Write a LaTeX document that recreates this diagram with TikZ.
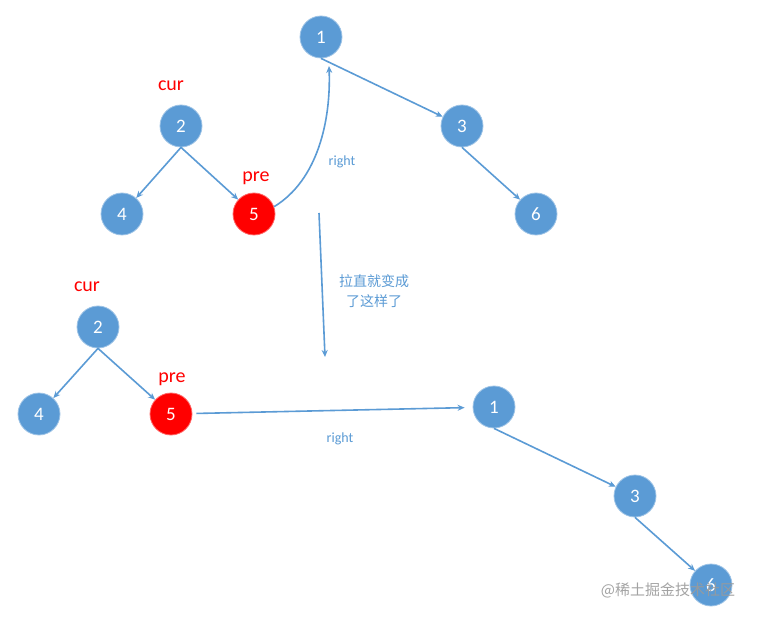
\documentclass[tikz,border=0pt]{standalone}
\usepackage{fontspec}
\setmainfont{Carlito}
\newfontfamily\cjk{Noto Sans CJK SC}
\usetikzlibrary{arrows.meta}
\definecolor{nodeblue}{HTML}{5B9BD5}
\definecolor{nodered}{HTML}{FF0000}
\definecolor{wmgray}{HTML}{9A9A9A}
\begin{document}
\begin{tikzpicture}[x=1pt,y=-1pt,
  tn/.style={circle,fill=nodeblue,draw=nodeblue!60!white,line width=0.8pt,minimum size=42pt,inner sep=0pt,text=white,font=\fontsize{19}{19}\selectfont},
  rn/.style={tn,fill=nodered,draw=nodered!60!white},
  lab/.style={text=nodered,font=\fontsize{20}{20}\selectfont},
  rlab/.style={text=nodeblue,font=\fontsize{14}{14}\selectfont},
  arr/.style={draw=nodeblue,line width=1.6pt,-{Stealth[length=7pt,width=6pt]}}]
\useasboundingbox[fill=white] (0,0) rectangle (757,617);
% top tree
\node[tn] (a1) at (321,37) {1};
\node[tn] (a2) at (181,126) {2};
\node[tn] (a4) at (122,214) {4};
\node[rn] (a5) at (254,214) {5};
\node[tn] (a3) at (462,126) {3};
\node[tn] (a6) at (536,214) {6};
\node[lab] (acur) at (171,86) {cur};
\node[lab] (apre) at (256,178) {pre};
\node[rlab] (aright) at (342,162) {right};
\draw[arr] (a2.south) -- (a4);
\draw[arr] (a2.south) -- (a5);
\draw[arr] (a1.south) -- (a3);
\draw[arr] (a3.south) -- (a6);
\coordinate (t1) at (329,66);
\draw[arr] (a5.20) .. controls (318,180) and (331,120) .. (t1);
% middle
\coordinate (v1) at (319,213);
\coordinate (v2) at (325,357);
\draw[arr] (v1) -- (v2);
\node[text=nodeblue,font=\cjk\fontsize{14}{20}\selectfont,align=center] (txt) at (374,291) {拉直就变成\\了这样了};
% bottom
\node[tn] (b2) at (98,327) {2};
\node[tn] (b4) at (39,414) {4};
\node[rn] (b5) at (171,414) {5};
\node[tn] (b1) at (494,407) {1};
\node[tn] (b3) at (635,496) {3};
\node[tn] (b6) at (711,585) {6};
\node[lab] (bcur) at (87,287) {cur};
\node[lab] (bpre) at (172,379) {pre};
\node[rlab] (bright) at (340,439) {right};
\draw[arr] (b2.south) -- (b4);
\draw[arr] (b2.south) -- (b5);
\draw[arr,shorten >=8pt,shorten <=4pt] (b5) -- (b1);
\draw[arr] (b1.south) -- (b3);
\draw[arr] (b3.south) -- (b6);
\node[text=wmgray,opacity=0.9,font=\cjk\fontsize{15}{15}\selectfont] (wm) at (668,590) {@稀土掘金技术社区};
\end{tikzpicture}
\end{document}
